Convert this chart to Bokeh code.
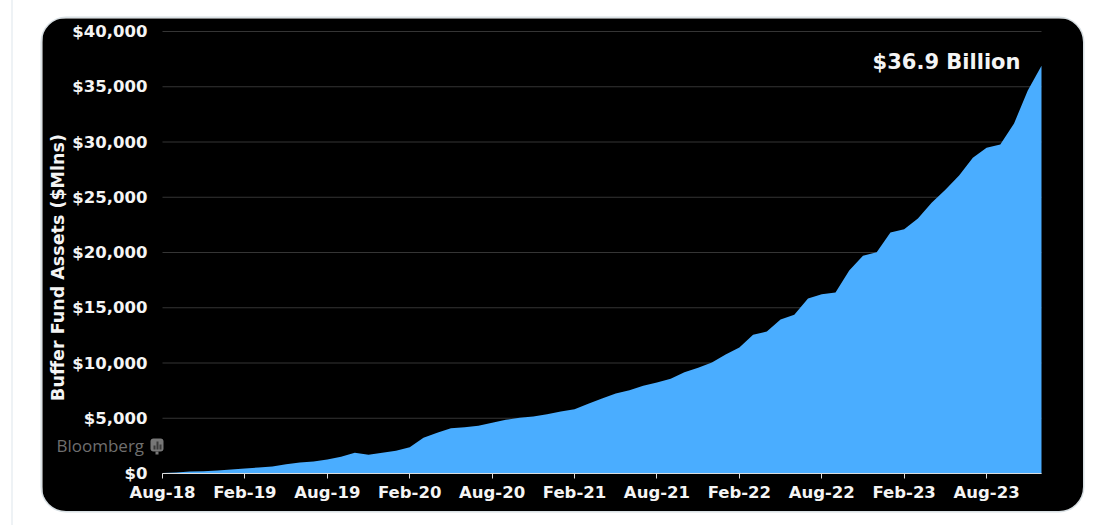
from bokeh.plotting import figure
from bokeh.layouts import column
from bokeh.models import Label, FixedTicker, NumeralTickFormatter, BoxAnnotation
from bokeh.embed import file_html
from bokeh.resources import INLINE

# Month-end assets, $Mlns, Aug-18 to Dec-23
assets = [50, 90, 190, 210, 270, 360, 450, 540, 630, 840, 1000, 1090, 1270, 1510, 1870, 1690,
          1870, 2050, 2380, 3230, 3680, 4100, 4190, 4310, 4590, 4860, 5040, 5160, 5370, 5610,
          5820, 6310, 6790, 7240, 7540, 7940, 8240, 8570, 9170, 9570, 10050, 10770, 11400,
          12550, 12850, 13940, 14360, 15840, 16230, 16380, 18370, 19700, 20030, 21810, 22110,
          23080, 24500, 25670, 26970, 28570, 29470, 29770, 31670, 34660, 36900]
months = list(range(len(assets)))
x_tick_pos = [0, 6, 12, 18, 24, 30, 36, 42, 48, 54, 60]
x_tick_labels = ["Aug-18", "Feb-19", "Aug-19", "Feb-20", "Aug-20", "Feb-21", "Aug-21",
                 "Feb-22", "Aug-22", "Feb-23", "Aug-23"]
y_ticks = [0, 5000, 10000, 15000, 20000, 25000, 30000, 35000, 40000]

FONT = "DejaVu Sans"
WHITE = "#f4f4f4"
TICK_SIZE = "16.5px"

# The frame fills the card; the ranges leave room round the data for axes and notes.
PX_X = 879 / 64
PX_Y = 40000 / 442
p = figure(width=1041, height=493, output_backend="svg", toolbar_location=None,
           x_range=(-120 / PX_X, 64 + 42 / PX_X), y_range=(-38 * PX_Y, 40000 + 13 * PX_Y),
           min_border_left=0, min_border_right=0, min_border_top=0, min_border_bottom=0)
p.background_fill_color = "black"
p.border_fill_color = "black"
p.outline_line_color = None
p.styles = {"border-radius": "24px", "overflow": "hidden", "box-shadow": "0 0 0 1.5px #d8e0e4"}

p.grid.visible = False
p.segment(x0=[0] * len(y_ticks), x1=[len(assets) - 1] * len(y_ticks), y0=y_ticks, y1=y_ticks,
          line_color="#353535", line_width=1)

p.varea(x=months, y1=[0] * len(assets), y2=assets, fill_color="#4AADFF")

p.xaxis.fixed_location = 0
p.xaxis.bounds = (0, 64)
p.xaxis.ticker = FixedTicker(ticks=x_tick_pos)
p.xaxis.major_label_overrides = dict(zip(x_tick_pos, x_tick_labels))
p.xaxis.minor_tick_line_color = None
p.xaxis.axis_line_color = "#dddddd"
p.xaxis.major_tick_line_color = "#dddddd"
p.xaxis.major_tick_in = 0
p.xaxis.major_tick_out = 5
p.xaxis.major_label_standoff = 4
p.xaxis.major_label_text_font = FONT
p.xaxis.major_label_text_font_style = "bold"
p.xaxis.major_label_text_font_size = TICK_SIZE
p.xaxis.major_label_text_color = WHITE

p.yaxis.fixed_location = 0
p.yaxis.ticker = FixedTicker(ticks=y_ticks)
p.yaxis.formatter = NumeralTickFormatter(format="$0,0")
p.yaxis.axis_line_color = None
p.yaxis.major_tick_line_color = None
p.yaxis.minor_tick_line_color = None
p.yaxis.major_tick_in = 0
p.yaxis.major_tick_out = 0
p.yaxis.major_label_standoff = 15
p.yaxis.major_label_text_font = FONT
p.yaxis.major_label_text_font_style = "bold"
p.yaxis.major_label_text_font_size = TICK_SIZE
p.yaxis.major_label_text_color = WHITE

p.add_layout(Label(x=15, y=244, x_units="screen", y_units="screen", text="Buffer Fund Assets ($Mlns)",
                   angle=90, angle_units="deg", text_align="center", text_baseline="middle",
                   text_font=FONT, text_font_style="bold", text_font_size="17.5px", text_color=WHITE))
p.add_layout(Label(x=978, y=450, x_units="screen", y_units="screen", text="$36.9 Billion",
                   text_align="right", text_baseline="middle",
                   text_font=FONT, text_font_style="bold", text_font_size="21px", text_color=WHITE))
p.add_layout(Label(x=14, y=66, x_units="screen", y_units="screen", text="Bloomberg",
                   text_align="left", text_baseline="middle",
                   text_font="Open Sans", text_font_size="17px", text_color="#6f6f6f"))


def icon_box(left, right, lower, upper, color, radius=0):
    p.add_layout(BoxAnnotation(left=left, right=right, top=lower, bottom=upper,
                               left_units="screen", right_units="screen",
                               top_units="screen", bottom_units="screen",
                               fill_color=color, fill_alpha=1, line_color=None,
                               border_radius=radius))


icon_box(108, 121, 60, 73, "#777777", 3)
icon_box(113, 116, 57, 60, "#777777")
for bar_left, bar_top in ((111, 66), (114, 70), (117, 67)):
    icon_box(bar_left, bar_left + 2, 62, bar_top, "#3a3a3a")

page = column(p, styles={"margin-left": "11px", "border-left": "2px solid #eef2f5",
                         "padding-left": "29px", "padding-top": "18px", "height": "525px",
                         "box-sizing": "border-box"})

open("out.html", "w").write(file_html(page, INLINE))
